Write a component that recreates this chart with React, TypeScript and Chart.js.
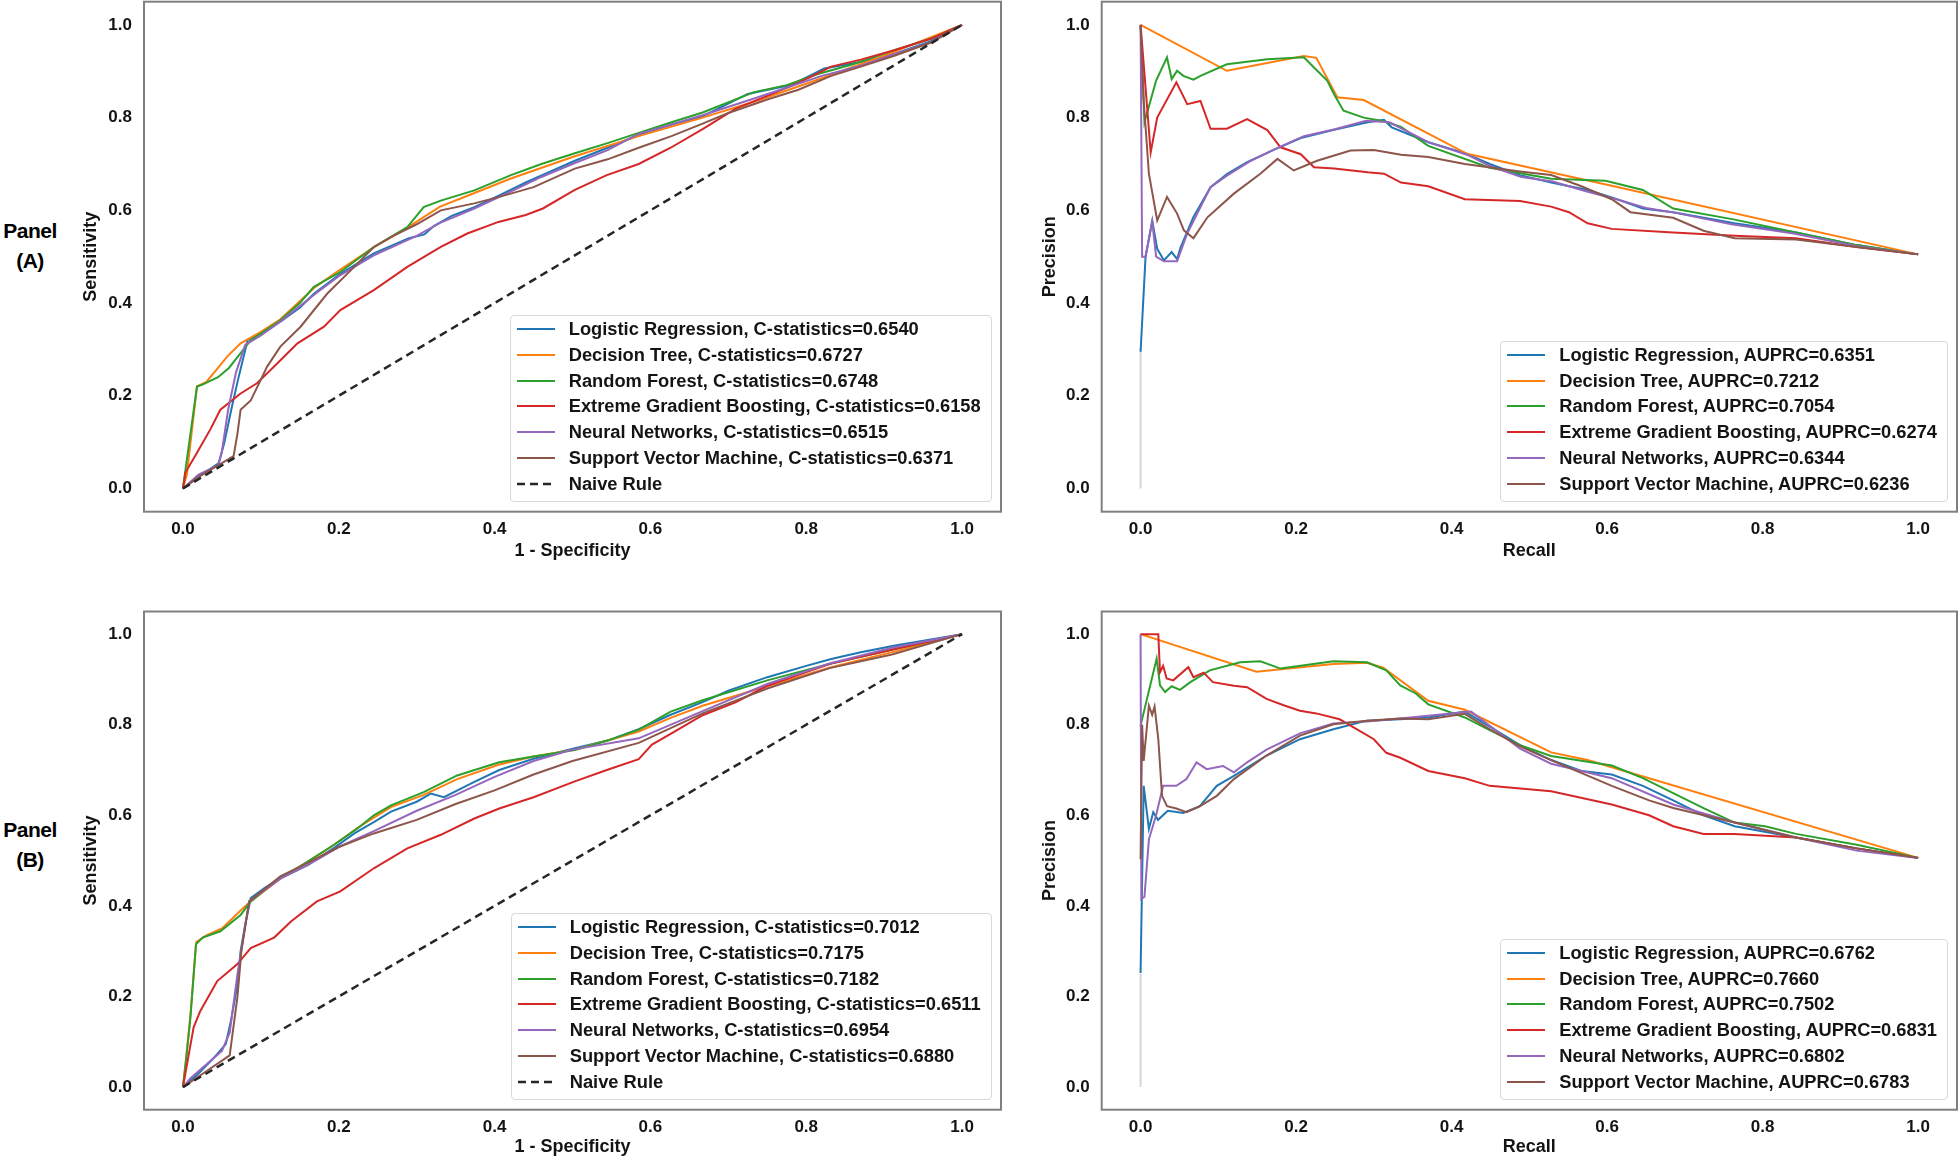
import React, { useEffect, useRef } from 'react';
import { Chart, registerables } from 'chart.js';

Chart.register(...registerables);

type Pt = [number, number];

const FONT = '"Liberation Sans", Arial, Helvetica, sans-serif';
const TEXT = '#141414';

const modelNames = [
  'Logistic Regression',
  'Decision Tree',
  'Random Forest',
  'Extreme Gradient Boosting',
  'Neural Networks',
  'Support Vector Machine',
];
const modelColors = ['#1f77b4', '#ff7f0e', '#2ca02c', '#d62728', '#9467bd', '#8c564b'];

const rocStatA = ['0.6540', '0.6727', '0.6748', '0.6158', '0.6515', '0.6371'];
const rocStatB = ['0.7012', '0.7175', '0.7182', '0.6511', '0.6954', '0.6880'];
const prStatA = ['0.6351', '0.7212', '0.7054', '0.6274', '0.6344', '0.6236'];
const prStatB = ['0.6762', '0.7660', '0.7502', '0.6831', '0.6802', '0.6783'];

const tickValues = [0, 0.2, 0.4, 0.6, 0.8, 1.0];

const naiveRule: Pt[] = [[0, 0], [1, 1]];
const prStemA: Pt[] = [[0, 0], [0, 0.3]];
const prStemB: Pt[] = [[0, 0], [0, 0.25]];

// ---------- Panel A : ROC ----------
const rocA_LR: Pt[] = [[0,0],[0.02,0.025],[0.046,0.055],[0.053,0.098],[0.062,0.17],[0.07,0.23],[0.083,0.32],[0.1,0.335],[0.125,0.36],[0.15,0.39],[0.168,0.42],[0.202,0.463],[0.245,0.507],[0.29,0.54],[0.31,0.548],[0.322,0.566],[0.345,0.588],[0.374,0.607],[0.406,0.632],[0.44,0.66],[0.503,0.707],[0.545,0.735],[0.585,0.763],[0.627,0.785],[0.667,0.803],[0.7,0.83],[0.725,0.851],[0.78,0.87],[0.81,0.895],[0.823,0.906],[0.87,0.92],[0.914,0.938],[0.96,0.965],[1,1]];
const rocA_DT: Pt[] = [[0,0],[0.005,0.03],[0.018,0.22],[0.03,0.23],[0.045,0.26],[0.057,0.285],[0.074,0.313],[0.1,0.338],[0.125,0.365],[0.17,0.435],[0.2,0.47],[0.245,0.52],[0.29,0.565],[0.33,0.608],[0.375,0.638],[0.42,0.668],[0.5,0.715],[0.585,0.76],[0.667,0.8],[0.74,0.838],[0.82,0.885],[0.91,0.94],[1,1]];
const rocA_RF: Pt[] = [[0,0],[0.004,0.05],[0.018,0.22],[0.025,0.224],[0.045,0.24],[0.059,0.26],[0.074,0.292],[0.087,0.32],[0.105,0.34],[0.125,0.363],[0.15,0.4],[0.168,0.435],[0.202,0.467],[0.245,0.521],[0.288,0.564],[0.309,0.607],[0.331,0.621],[0.374,0.643],[0.421,0.676],[0.46,0.7],[0.503,0.723],[0.545,0.745],[0.585,0.767],[0.627,0.79],[0.667,0.811],[0.733,0.855],[0.775,0.87],[0.815,0.894],[0.86,0.915],[0.914,0.946],[0.96,0.97],[1,1]];
const rocA_XGB: Pt[] = [[0,0],[0.003,0.034],[0.018,0.077],[0.035,0.127],[0.048,0.17],[0.074,0.205],[0.095,0.227],[0.117,0.263],[0.147,0.313],[0.181,0.349],[0.202,0.385],[0.245,0.428],[0.288,0.478],[0.331,0.521],[0.365,0.55],[0.405,0.575],[0.44,0.59],[0.462,0.604],[0.503,0.644],[0.544,0.676],[0.585,0.7],[0.626,0.735],[0.667,0.775],[0.709,0.819],[0.75,0.847],[0.79,0.875],[0.832,0.91],[0.87,0.925],[0.914,0.946],[0.96,0.97],[1,1]];
const rocA_NN: Pt[] = [[0,0],[0.02,0.03],[0.045,0.05],[0.05,0.08],[0.058,0.17],[0.068,0.25],[0.08,0.31],[0.1,0.33],[0.125,0.36],[0.17,0.42],[0.2,0.458],[0.245,0.503],[0.3,0.545],[0.33,0.573],[0.374,0.604],[0.42,0.64],[0.46,0.672],[0.5,0.7],[0.545,0.73],[0.585,0.765],[0.627,0.785],[0.667,0.805],[0.74,0.845],[0.82,0.89],[0.87,0.912],[0.91,0.935],[0.96,0.962],[1,1]];
const rocA_SVM: Pt[] = [[0,0],[0.02,0.025],[0.045,0.05],[0.065,0.07],[0.07,0.119],[0.074,0.17],[0.087,0.19],[0.1,0.235],[0.108,0.263],[0.125,0.306],[0.151,0.349],[0.185,0.42],[0.215,0.47],[0.245,0.521],[0.27,0.545],[0.3,0.57],[0.331,0.6],[0.374,0.615],[0.406,0.629],[0.45,0.65],[0.503,0.69],[0.545,0.71],[0.585,0.735],[0.627,0.76],[0.667,0.787],[0.7,0.81],[0.75,0.839],[0.79,0.86],[0.832,0.89],[0.87,0.91],[0.914,0.934],[0.96,0.962],[1,1]];

// ---------- Panel A : Precision-Recall ----------
const prA_LR: Pt[] = [[0,0.295],[0.0064,0.5],[0.015,0.578],[0.0214,0.517],[0.03,0.492],[0.04,0.51],[0.047,0.495],[0.0515,0.52],[0.068,0.586],[0.09,0.65],[0.111,0.678],[0.137,0.704],[0.172,0.731],[0.206,0.756],[0.249,0.774],[0.292,0.79],[0.313,0.795],[0.323,0.779],[0.37,0.747],[0.417,0.723],[0.449,0.7],[0.488,0.676],[0.528,0.66],[0.575,0.644],[0.606,0.628],[0.646,0.604],[0.685,0.596],[0.764,0.572],[0.843,0.552],[0.921,0.525],[1,0.505]];
const prA_DT: Pt[] = [[0,1.0],[0.111,0.901],[0.21,0.933],[0.226,0.929],[0.253,0.844],[0.287,0.838],[0.42,0.722],[0.6,0.655],[1,0.505]];
const prA_RF: Pt[] = [[0,1.0],[0.005,0.79],[0.02,0.88],[0.034,0.93],[0.04,0.883],[0.047,0.901],[0.055,0.89],[0.068,0.882],[0.077,0.89],[0.111,0.915],[0.163,0.926],[0.21,0.93],[0.223,0.908],[0.24,0.88],[0.249,0.85],[0.261,0.815],[0.287,0.8],[0.313,0.792],[0.335,0.78],[0.37,0.739],[0.449,0.692],[0.528,0.668],[0.598,0.664],[0.646,0.644],[0.685,0.604],[0.764,0.58],[0.843,0.552],[0.921,0.525],[1,0.505]];
const prA_XGB: Pt[] = [[0,1.0],[0.013,0.725],[0.0214,0.8],[0.046,0.876],[0.06,0.829],[0.077,0.836],[0.09,0.776],[0.111,0.776],[0.137,0.797],[0.163,0.773],[0.18,0.736],[0.206,0.721],[0.223,0.693],[0.249,0.69],[0.292,0.682],[0.313,0.679],[0.335,0.66],[0.37,0.652],[0.417,0.624],[0.488,0.62],[0.528,0.608],[0.551,0.596],[0.575,0.572],[0.606,0.56],[0.685,0.552],[0.764,0.545],[0.843,0.54],[0.921,0.521],[1,0.505]];
const prA_NN: Pt[] = [[0,1.0],[0.002,0.5],[0.0064,0.5],[0.015,0.575],[0.02,0.5],[0.03,0.49],[0.047,0.49],[0.06,0.55],[0.09,0.65],[0.111,0.675],[0.14,0.705],[0.17,0.73],[0.21,0.76],[0.25,0.775],[0.29,0.793],[0.32,0.79],[0.37,0.747],[0.42,0.72],[0.45,0.695],[0.49,0.672],[0.53,0.662],[0.575,0.64],[0.61,0.625],[0.65,0.605],[0.69,0.594],[0.76,0.57],[0.84,0.55],[0.92,0.523],[1,0.505]];
const prA_SVM: Pt[] = [[0,1.0],[0.004,0.837],[0.0107,0.679],[0.0214,0.578],[0.034,0.629],[0.047,0.593],[0.0557,0.557],[0.068,0.54],[0.086,0.585],[0.12,0.636],[0.154,0.679],[0.176,0.711],[0.197,0.686],[0.227,0.707],[0.27,0.729],[0.3,0.73],[0.335,0.72],[0.37,0.715],[0.417,0.7],[0.488,0.684],[0.528,0.676],[0.567,0.652],[0.606,0.624],[0.63,0.596],[0.685,0.584],[0.724,0.556],[0.764,0.54],[0.843,0.537],[0.921,0.521],[1,0.505]];

// ---------- Panel B : ROC ----------
const rocB_LR: Pt[] = [[0,0],[0.02,0.03],[0.04,0.065],[0.055,0.095],[0.062,0.15],[0.07,0.227],[0.074,0.3],[0.08,0.36],[0.087,0.417],[0.105,0.44],[0.125,0.461],[0.16,0.49],[0.194,0.528],[0.22,0.56],[0.245,0.585],[0.267,0.608],[0.3,0.63],[0.318,0.648],[0.335,0.64],[0.374,0.674],[0.406,0.7],[0.45,0.725],[0.503,0.748],[0.545,0.765],[0.585,0.79],[0.626,0.822],[0.667,0.85],[0.7,0.875],[0.75,0.905],[0.8,0.93],[0.832,0.945],[0.87,0.96],[0.914,0.975],[1,1]];
const rocB_DT: Pt[] = [[0,0],[0.005,0.08],[0.0096,0.16],[0.017,0.32],[0.03,0.335],[0.05,0.35],[0.074,0.39],[0.087,0.41],[0.125,0.46],[0.16,0.497],[0.194,0.535],[0.224,0.572],[0.245,0.595],[0.267,0.618],[0.309,0.645],[0.352,0.68],[0.406,0.712],[0.45,0.73],[0.503,0.745],[0.545,0.765],[0.585,0.785],[0.626,0.815],[0.667,0.842],[0.75,0.885],[0.832,0.927],[0.914,0.962],[1,1]];
const rocB_RF: Pt[] = [[0,0],[0.004,0.06],[0.0096,0.153],[0.0167,0.315],[0.0253,0.33],[0.048,0.344],[0.074,0.38],[0.087,0.41],[0.105,0.435],[0.125,0.461],[0.16,0.498],[0.194,0.535],[0.224,0.571],[0.245,0.6],[0.267,0.622],[0.309,0.651],[0.352,0.688],[0.406,0.717],[0.45,0.73],[0.503,0.744],[0.545,0.765],[0.585,0.789],[0.626,0.829],[0.667,0.854],[0.75,0.898],[0.832,0.935],[0.914,0.967],[1,1]];
const rocB_XGB: Pt[] = [[0,0],[0.006,0.058],[0.0137,0.132],[0.0223,0.168],[0.044,0.234],[0.0696,0.271],[0.087,0.307],[0.117,0.33],[0.139,0.366],[0.172,0.41],[0.202,0.432],[0.245,0.483],[0.288,0.527],[0.331,0.557],[0.374,0.593],[0.406,0.615],[0.45,0.64],[0.503,0.675],[0.544,0.7],[0.585,0.724],[0.602,0.756],[0.626,0.78],[0.667,0.821],[0.71,0.85],[0.75,0.886],[0.79,0.91],[0.832,0.935],[0.87,0.95],[0.914,0.967],[1,1]];
const rocB_NN: Pt[] = [[0,0],[0.01,0.02],[0.03,0.05],[0.05,0.08],[0.06,0.12],[0.07,0.25],[0.085,0.41],[0.125,0.46],[0.16,0.49],[0.2,0.53],[0.245,0.565],[0.3,0.61],[0.35,0.645],[0.4,0.685],[0.45,0.72],[0.5,0.745],[0.585,0.77],[0.667,0.83],[0.75,0.89],[0.83,0.935],[0.91,0.97],[1,1]];
const rocB_SVM: Pt[] = [[0,0],[0.03,0.035],[0.06,0.07],[0.07,0.2],[0.075,0.3],[0.085,0.41],[0.125,0.465],[0.16,0.495],[0.2,0.53],[0.245,0.56],[0.3,0.59],[0.35,0.625],[0.4,0.655],[0.45,0.69],[0.5,0.72],[0.585,0.76],[0.667,0.825],[0.75,0.88],[0.83,0.925],[0.91,0.955],[1,1]];

// ---------- Panel B : Precision-Recall ----------
const prB_LR: Pt[] = [[0,0.252],[0.004,0.665],[0.0107,0.57],[0.0163,0.607],[0.0225,0.59],[0.035,0.61],[0.055,0.605],[0.0763,0.62],[0.098,0.665],[0.12,0.687],[0.162,0.732],[0.205,0.768],[0.248,0.79],[0.291,0.809],[0.334,0.812],[0.37,0.816],[0.417,0.829],[0.449,0.796],[0.488,0.755],[0.528,0.722],[0.567,0.698],[0.606,0.69],[0.646,0.665],[0.685,0.633],[0.724,0.6],[0.764,0.576],[0.843,0.551],[0.921,0.527],[1,0.506]];
const prB_DT: Pt[] = [[0,1.0],[0.149,0.917],[0.248,0.934],[0.291,0.937],[0.312,0.926],[0.37,0.853],[0.417,0.833],[0.528,0.739],[0.575,0.722],[0.606,0.706],[1,0.506]];
const prB_RF: Pt[] = [[0,0.798],[0.0207,0.946],[0.025,0.887],[0.0315,0.872],[0.04,0.885],[0.0507,0.877],[0.064,0.894],[0.089,0.92],[0.128,0.938],[0.154,0.94],[0.18,0.924],[0.248,0.94],[0.291,0.938],[0.316,0.92],[0.334,0.887],[0.354,0.869],[0.37,0.845],[0.417,0.816],[0.449,0.788],[0.488,0.755],[0.528,0.731],[0.606,0.71],[0.646,0.682],[0.685,0.649],[0.724,0.616],[0.764,0.584],[0.803,0.576],[0.843,0.559],[0.921,0.535],[1,0.506]];
const prB_XGB: Pt[] = [[0,1.0],[0.0228,1.0],[0.025,0.916],[0.029,0.93],[0.0335,0.902],[0.042,0.898],[0.0614,0.927],[0.068,0.905],[0.081,0.915],[0.093,0.894],[0.12,0.886],[0.137,0.883],[0.162,0.857],[0.184,0.843],[0.205,0.831],[0.226,0.825],[0.256,0.812],[0.274,0.794],[0.3,0.768],[0.316,0.738],[0.334,0.727],[0.37,0.698],[0.417,0.682],[0.449,0.665],[0.528,0.653],[0.606,0.624],[0.654,0.6],[0.685,0.576],[0.724,0.559],[0.764,0.559],[0.843,0.551],[0.921,0.527],[1,0.506]];
const prB_NN: Pt[] = [[0,1.0],[0.001,0.415],[0.005,0.42],[0.0107,0.547],[0.02,0.6],[0.029,0.665],[0.046,0.665],[0.059,0.68],[0.072,0.717],[0.085,0.702],[0.106,0.709],[0.12,0.695],[0.137,0.717],[0.162,0.745],[0.205,0.781],[0.248,0.803],[0.291,0.807],[0.334,0.814],[0.425,0.829],[0.488,0.747],[0.528,0.714],[0.606,0.682],[0.685,0.624],[0.764,0.584],[0.843,0.551],[0.921,0.522],[1,0.506]];
const prB_SVM: Pt[] = [[0,0.503],[0.002,0.8],[0.004,0.72],[0.0107,0.842],[0.0149,0.822],[0.018,0.84],[0.0228,0.768],[0.0276,0.643],[0.034,0.62],[0.046,0.615],[0.059,0.607],[0.076,0.62],[0.098,0.643],[0.12,0.68],[0.162,0.732],[0.205,0.776],[0.248,0.801],[0.291,0.809],[0.334,0.814],[0.37,0.812],[0.417,0.824],[0.449,0.79],[0.488,0.752],[0.528,0.722],[0.606,0.665],[0.654,0.633],[0.685,0.616],[0.764,0.584],[0.843,0.551],[0.921,0.527],[1,0.506]];

// ---------- layout ----------
type Geo = {
  canvasLeft: number; canvasTop: number; canvasRight: number; canvasBottom: number;
  plotLeft: number; plotTop: number; plotRight: number; plotBottom: number;
};

const ROC_COL = { canvasLeft: 80, canvasRight: 1003, plotLeft: 144, plotRight: 1001 };
const PR_COL = { canvasLeft: 1039, canvasRight: 1959, plotLeft: 1101.7, plotRight: 1957 };
const ROW_A = { canvasTop: 0, canvasBottom: 562, plotTop: 1.7, plotBottom: 511.7 };
const ROW_B = { canvasTop: 590, canvasBottom: 1158, plotTop: 611.5, plotBottom: 1109.7 };

const framePlugin = {
  id: 'frameBox',
  afterDatasetsDraw(chart: any) {
    const { ctx, chartArea: a } = chart;
    ctx.save();
    ctx.strokeStyle = '#808080';
    ctx.lineWidth = 2;
    ctx.strokeRect(a.left, a.top, a.right - a.left, a.bottom - a.top);
    ctx.restore();
  },
};

const tickFont = { family: FONT, size: 17, weight: 'bold' as const, lineHeight: 1.2 };
const titleFont = { family: FONT, size: 18, weight: 'bold' as const, lineHeight: 1.2 };

function CurvePanel(props: {
  geo: Geo; curves: Pt[][]; naive?: Pt[]; stem?: Pt[]; xTitle: string; yTitle: string;
}) {
  const { geo, curves, naive, stem, xTitle, yTitle } = props;
  const ref = useRef<HTMLCanvasElement>(null);
  const w = geo.canvasRight - geo.canvasLeft;
  const h = geo.canvasBottom - geo.canvasTop;

  useEffect(() => {
    const toXY = (pts: Pt[]) => pts.map(([x, y]) => ({ x, y }));
    const datasets: any[] = [];
    if (stem) {
      datasets.push({ label: 'stem', data: toXY(stem), borderColor: '#d4d4dc', borderWidth: 2, pointRadius: 0, tension: 0, fill: false });
    }
    curves.forEach((pts, i) => {
      datasets.push({ label: modelNames[i], data: toXY(pts), borderColor: modelColors[i], borderWidth: 2, pointRadius: 0, tension: 0, fill: false });
    });
    if (naive) {
      datasets.push({ label: 'Naive Rule', data: toXY(naive), borderColor: '#262626', borderDash: [8, 5], borderWidth: 2.5, pointRadius: 0, tension: 0, fill: false });
    }
    datasets.forEach((d, i) => { d.order = datasets.length - i; });

    const yWidth = geo.plotLeft - geo.canvasLeft;
    const xHeight = geo.canvasBottom - geo.plotBottom;
    const resetPad = (s: any) => { s.paddingLeft = 0; s.paddingRight = 0; s.paddingTop = 0; s.paddingBottom = 0; };

    const chart = new Chart(ref.current as HTMLCanvasElement, {
      type: 'line',
      data: { datasets },
      options: {
        animation: false,
        responsive: false,
        devicePixelRatio: 1,
        events: [],
        layout: {
          autoPadding: false,
          padding: { left: 0, top: geo.plotTop - geo.canvasTop, right: geo.canvasRight - geo.plotRight, bottom: 0 },
        },
        plugins: { legend: { display: false }, tooltip: { enabled: false } },
        scales: {
          x: {
            type: 'linear', min: -0.05, max: 1.05, bounds: 'data',
            afterBuildTicks: (s: any) => { s.ticks = tickValues.map((v) => ({ value: v })); },
            afterFit: (s: any) => { s.height = xHeight; resetPad(s); },
            ticks: { callback: (v: any) => Number(v).toFixed(1), font: tickFont, color: TEXT, padding: 7, maxRotation: 0, autoSkip: false },
            grid: { display: false, drawTicks: false },
            border: { display: false },
            title: { display: true, text: xTitle, font: titleFont, color: TEXT, padding: 0 },
          },
          y: {
            type: 'linear', min: -0.05, max: 1.05, bounds: 'data',
            afterBuildTicks: (s: any) => { s.ticks = tickValues.map((v) => ({ value: v })); },
            afterFit: (s: any) => { s.width = yWidth; resetPad(s); },
            ticks: { callback: (v: any) => Number(v).toFixed(1), font: tickFont, color: TEXT, padding: 12, autoSkip: false },
            grid: { display: false, drawTicks: false },
            border: { display: false },
            title: { display: true, text: yTitle, font: titleFont, color: TEXT, padding: 0 },
          },
        },
      } as any,
      plugins: [framePlugin],
    });
    return () => chart.destroy();
  }, []);

  return (
    <canvas
      ref={ref}
      width={w}
      height={h}
      style={{ position: 'absolute', left: geo.canvasLeft, top: geo.canvasTop, width: w, height: h }}
    />
  );
}

function LegendBox(props: { rightEdge: number; bottomEdge: number; entries: { label: string; color: string; dashed?: boolean }[] }) {
  const { rightEdge, bottomEdge, entries } = props;
  return (
    <div
      style={{
        position: 'absolute', right: 1960 - rightEdge, bottom: 1159 - bottomEdge,
        background: 'rgba(255,255,255,0.85)', border: '1px solid #d8d8d8', borderRadius: 4,
        padding: '0px 10px 4px 0', font: `bold 18.3px ${FONT}`, color: TEXT,
      }}
    >
      {entries.map((e) => (
        <div key={e.label} style={{ display: 'flex', alignItems: 'center', height: 25.8, whiteSpace: 'nowrap' }}>
          <svg width={38} height={6} style={{ marginLeft: 6, marginRight: 14, flex: 'none' }}>
            <line x1={0} y1={3} x2={38} y2={3} stroke={e.color} strokeWidth={e.dashed ? 2.5 : 2} strokeDasharray={e.dashed ? '8 5' : undefined} />
          </svg>
          <span>{e.label}</span>
        </div>
      ))}
    </div>
  );
}

function PanelLabel(props: { letter: string; top: number }) {
  return (
    <div style={{ position: 'absolute', left: 0, top: props.top, width: 60, textAlign: 'center', font: `bold 21px ${FONT}`, lineHeight: '30px', color: '#000', letterSpacing: '-0.5px' }}>
      <div>Panel</div>
      <div>({props.letter})</div>
    </div>
  );
}

export default function App() {
  const rocLegend = (stats: string[]) => [
    ...modelNames.map((n, i) => ({ label: `${n}, C-statistics=${stats[i]}`, color: modelColors[i] })),
    { label: 'Naive Rule', color: '#262626', dashed: true },
  ];
  const prLegend = (stats: string[]) => modelNames.map((n, i) => ({ label: `${n}, AUPRC=${stats[i]}`, color: modelColors[i] }));

  return (
    <div style={{ position: 'absolute', left: 0, top: 0, width: 1960, height: 1159, background: '#fff', overflow: 'hidden' }}>
      <CurvePanel geo={{ ...ROC_COL, ...ROW_A }} curves={[rocA_LR, rocA_DT, rocA_RF, rocA_XGB, rocA_NN, rocA_SVM]} naive={naiveRule} xTitle="1 - Specificity" yTitle="Sensitivity" />
      <CurvePanel geo={{ ...PR_COL, ...ROW_A }} curves={[prA_LR, prA_DT, prA_RF, prA_XGB, prA_NN, prA_SVM]} stem={prStemA} xTitle="Recall" yTitle="Precision" />
      <CurvePanel geo={{ ...ROC_COL, ...ROW_B }} curves={[rocB_LR, rocB_DT, rocB_RF, rocB_XGB, rocB_NN, rocB_SVM]} naive={naiveRule} xTitle="1 - Specificity" yTitle="Sensitivity" />
      <CurvePanel geo={{ ...PR_COL, ...ROW_B }} curves={[prB_LR, prB_DT, prB_RF, prB_XGB, prB_NN, prB_SVM]} stem={prStemB} xTitle="Recall" yTitle="Precision" />

      <LegendBox rightEdge={991.7} bottomEdge={501.7} entries={rocLegend(rocStatA)} />
      <LegendBox rightEdge={1948} bottomEdge={501.7} entries={prLegend(prStatA)} />
      <LegendBox rightEdge={991.7} bottomEdge={1099.7} entries={rocLegend(rocStatB)} />
      <LegendBox rightEdge={1948} bottomEdge={1099.7} entries={prLegend(prStatB)} />

      <PanelLabel letter="A" top={216} />
      <PanelLabel letter="B" top={815} />
    </div>
  );
}
